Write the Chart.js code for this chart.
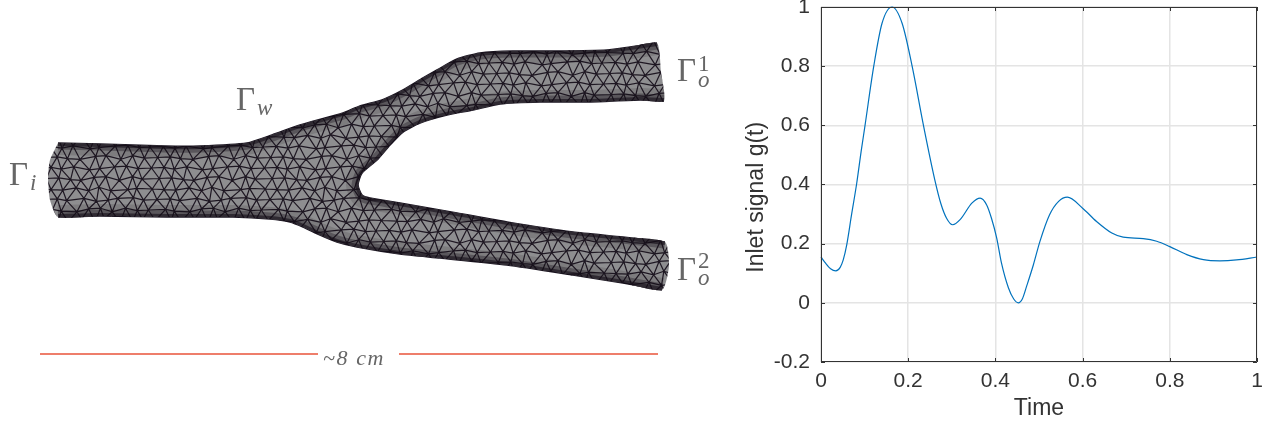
<!DOCTYPE html>
<html>
<head>
<meta charset="utf-8">
<title>Inlet signal</title>
<script src="https://cdn.jsdelivr.net/npm/chart.js@4"></script>
<style>
html, body { margin: 0; padding: 0; background: #fff; width: 1268px; height: 425px; overflow: hidden; }
#meshWrap { position: absolute; left: 0; top: 0; width: 720px; height: 425px; }
#signalWrap { position: absolute; left: 720px; top: 0; width: 548px; height: 425px; }
.lbl { position: absolute; color: #666; font-family: "Liberation Serif", serif; line-height: 1; white-space: nowrap; }
.big { font-size: 33px; }
.small { font-size: 23px; }
.it { font-style: italic; }
</style>
</head>
<body>
<div id="meshWrap"><canvas id="meshChart"></canvas></div>
<div id="signalWrap"><canvas id="signalChart"></canvas></div>

<span class="lbl big" style="left:9px;top:158px">Γ</span>
<span class="lbl small it" style="left:30px;top:171px">i</span>
<span class="lbl big" style="left:236px;top:83px">Γ</span>
<span class="lbl small it" style="left:257px;top:96px">w</span>
<span class="lbl big" style="left:677px;top:54px">Γ</span>
<span class="lbl small" style="left:698px;top:52px">1</span>
<span class="lbl small it" style="left:698px;top:68px">o</span>
<span class="lbl big" style="left:677px;top:253px">Γ</span>
<span class="lbl small" style="left:698px;top:249px">2</span>
<span class="lbl small it" style="left:698px;top:266px">o</span>
<span class="lbl it" style="left:323px;top:347px;font-size:22px;letter-spacing:1.6px">~8 cm</span>

<script>
// inlet signal
var signalTime = [0, 0.009, 0.022, 0.034, 0.044, 0.051, 0.059, 0.07, 0.082, 0.092, 0.101, 0.121, 0.14, 0.163, 0.186, 0.209, 0.235, 0.261, 0.275, 0.288, 0.302, 0.319, 0.346, 0.365, 0.38, 0.391, 0.403, 0.414, 0.43, 0.442, 0.4525, 0.462, 0.472, 0.487, 0.502, 0.524, 0.545, 0.565, 0.6, 0.632, 0.667, 0.693, 0.739, 0.77, 0.8, 0.839, 0.877, 0.915, 0.953, 1];
var signalValue = [0.155, 0.137, 0.115, 0.108, 0.12, 0.145, 0.196, 0.297, 0.405, 0.511, 0.6, 0.8, 0.945, 1, 0.945, 0.8, 0.6, 0.416, 0.335, 0.286, 0.264, 0.281, 0.337, 0.354, 0.331, 0.286, 0.219, 0.134, 0.05, 0.013, 0, 0.014, 0.058, 0.128, 0.207, 0.297, 0.343, 0.357, 0.32, 0.275, 0.236, 0.222, 0.217, 0.208, 0.19, 0.163, 0.146, 0.142, 0.145, 0.155];
var xTicks = [0, 0.2, 0.4, 0.6, 0.8, 1];
var yTicks = [-0.2, 0, 0.2, 0.4, 0.6, 0.8, 1];

// vessel outline, in picture coordinates of the left panel
var wallUpper = [[58,143],[100,144],[165,146],[200,146],[247,143],[272,135],[300,125],[343,113],[360,106],[382,100],[403,90],[423,78],[437,70],[457,59],[480,53],[513,51],[557,51],[607,50],[630,47],[657,43]];
var capOutlet1 = [[661,72]];
var wallInner = [[664,101],[640,100],[590,102],[540,102],[500,104],[473,110],[447,115],[420,123],[403,132],[390,145],[377,160],[362,173],[358,185],[362,195],[370,198],[400,203],[457,213],[507,222],[573,232],[623,237],[665,242]];
var capOutlet2 = [[669,266]];
var wallLower = [[662,290],[623,283],[573,275],[507,265],[440,258],[400,254],[357,247],[337,242],[320,235],[303,227],[290,222],[270,219],[233,217],[167,217],[100,216],[58,217]];
var capInlet = [[50,200],[48,177],[50,160],[58,143]];
var rulerLeft = [[40,354],[318,354]];
var rulerRight = [[399,354],[658,354]];

function toXY(list) {
    return list.map(function (p) { return { x: p[0], y: p[1] }; });
}

// small irregular triangle tile for the surface mesh
function meshPattern(ctx) {
    var cols = 9, rows = 8, dx = 12.5, dy = 10.5;
    var jit = [2, -1, 3, 0, -2, 1, -3, 2, 1, -2, 0, 3, -1, -3, 2, 1, -2, 0, 3, -1, 1];
    var tile = document.createElement('canvas');
    tile.width = Math.round(cols * dx);
    tile.height = rows * dy;
    var t = tile.getContext('2d');
    t.fillStyle = '#8e8e90';
    t.fillRect(0, 0, tile.width, tile.height);
    t.strokeStyle = 'rgba(24,17,28,0.95)';
    t.lineWidth = 1.2;
    function node(c, r) {
        var cw = (c % cols + cols) % cols, rw = (r % rows + rows) % rows;
        return [
            (c * tile.width / cols) + (r % 2 !== 0 ? dx / 2 : 0) + jit[(cw * 5 + rw * 3) % jit.length] * 0.8,
            r * dy + jit[(cw * 2 + rw * 7 + 4) % jit.length] * 0.6
        ];
    }
    function seg(a, b) {
        t.moveTo(a[0], a[1]);
        t.lineTo(b[0], b[1]);
    }
    t.beginPath();
    for (var r = -1; r <= rows; r++) {
        for (var c = -1; c <= cols; c++) {
            var n = node(c, r);
            var off = r % 2 !== 0 ? 1 : 0;
            seg(n, node(c + 1, r));
            seg(n, node(c + off, r + 1));
            seg(n, node(c + off - 1, r + 1));
        }
    }
    t.stroke();
    return ctx.createPattern(tile, 'repeat');
}

// darkens the mesh along the walls, where the elements get dense
var wallShade = {
    id: 'wallShade',
    afterDatasetsDraw: function (chart) {
        var ctx = chart.ctx;
        ctx.save();
        ctx.beginPath();
        chart.getDatasetMeta(0).dataset.path(ctx);
        ctx.closePath();
        ctx.clip();
        [[24, 0.14], [13, 0.34], [6, 0.6]].forEach(function (s) {
            [1, 2, 3].forEach(function (i) {
                ctx.beginPath();
                chart.getDatasetMeta(i).dataset.path(ctx);
                ctx.lineWidth = s[0];
                ctx.strokeStyle = 'rgba(20,14,24,' + s[1] + ')';
                ctx.stroke();
            });
        });
        ctx.restore();
    }
};

var meshCtx = document.getElementById('meshChart').getContext('2d');
var vessel = wallUpper.concat(capOutlet1, wallInner, capOutlet2, wallLower, capInlet);
function wall(list) {
    return { data: toXY(list), showLine: true, borderColor: '#1a1420', borderWidth: 1.6, pointRadius: 0, tension: 0.2, fill: false };
}
function ruler(list) {
    return { data: toXY(list), showLine: true, borderColor: '#e8533a', borderWidth: 1.4, pointRadius: 0, fill: false };
}
new Chart(meshCtx, {
    type: 'scatter',
    data: {
        datasets: [
            { data: toXY(vessel), showLine: true, fill: 'shape', backgroundColor: meshPattern(meshCtx), borderWidth: 0, borderColor: 'rgba(0,0,0,0)', pointRadius: 0, tension: 0.2 },
            wall(wallUpper),
            wall(wallInner),
            wall(wallLower),
            ruler(rulerLeft),
            ruler(rulerRight)
        ]
    },
    options: {
        responsive: true,
        maintainAspectRatio: false,
        animation: false,
        events: [],
        plugins: { legend: { display: false }, tooltip: { enabled: false } },
        scales: {
            x: { type: 'linear', display: false, min: 0, max: 720 },
            y: { type: 'linear', display: false, min: 0, max: 425, reverse: true }
        }
    },
    plugins: [wallShade]
});

// matlab style box with inward ticks
var insideTicks = {
    id: 'insideTicks',
    afterDatasetsDraw: function (chart) {
        var ctx = chart.ctx, a = chart.chartArea, len = 4;
        ctx.save();
        ctx.strokeStyle = '#333';
        ctx.lineWidth = 1;
        ctx.beginPath();
        ctx.rect(a.left + 0.5, a.top + 0.5, a.right - a.left - 1, a.bottom - a.top - 1);
        xTicks.forEach(function (v) {
            var px = Math.round(chart.scales.x.getPixelForValue(v)) + 0.5;
            ctx.moveTo(px, a.top);
            ctx.lineTo(px, a.top + len);
            ctx.moveTo(px, a.bottom);
            ctx.lineTo(px, a.bottom - len);
        });
        yTicks.forEach(function (v) {
            var py = Math.round(chart.scales.y.getPixelForValue(v)) + 0.5;
            ctx.moveTo(a.left, py);
            ctx.lineTo(a.left + len, py);
            ctx.moveTo(a.right, py);
            ctx.lineTo(a.right - len, py);
        });
        ctx.stroke();
        ctx.restore();
    }
};

var fontName = '"Liberation Sans", Arial, sans-serif';
new Chart(document.getElementById('signalChart').getContext('2d'), {
    type: 'scatter',
    data: {
        datasets: [{
            data: signalTime.map(function (t, i) { return { x: t, y: signalValue[i] }; }),
            showLine: true,
            borderColor: '#0072bd',
            borderWidth: 1.2,
            pointRadius: 0,
            cubicInterpolationMode: 'monotone',
            clip: false
        }]
    },
    options: {
        responsive: true,
        maintainAspectRatio: false,
        animation: false,
        events: [],
        layout: { padding: { top: 7, right: 11, left: 0, bottom: 0 } },
        plugins: { legend: { display: false }, tooltip: { enabled: false } },
        scales: {
            x: {
                type: 'linear',
                min: 0,
                max: 1,
                afterBuildTicks: function (s) { s.ticks = xTicks.map(function (v) { return { value: v }; }); },
                afterFit: function (s) { s.height = 63; s.paddingLeft = 0; s.paddingRight = 0; },
                grid: { color: '#e4e4e4', drawTicks: false, lineWidth: 1.5 },
                border: { display: false },
                ticks: { color: '#333', padding: 7, maxRotation: 0, font: { family: fontName, size: 21 }, callback: function (v) { return String(v); } },
                title: { display: true, text: 'Time', color: '#333', padding: { top: 0, bottom: 3 }, font: { family: fontName, size: 23 } }
            },
            y: {
                type: 'linear',
                min: -0.2,
                max: 1,
                afterBuildTicks: function (s) { s.ticks = yTicks.map(function (v) { return { value: v }; }); },
                afterFit: function (s) { s.width = 101; s.paddingTop = 0; s.paddingBottom = 0; },
                grid: { color: '#e4e4e4', drawTicks: false, lineWidth: 1.5 },
                border: { display: false },
                ticks: { color: '#333', padding: 11, font: { family: fontName, size: 21 }, callback: function (v) { return String(v); } },
                // trailing spaces: the label sits a little below the middle of the axis
                title: { display: true, text: 'Inlet signal g(t)\u00a0\u00a0\u00a0\u00a0', color: '#333', padding: { top: 23, bottom: 0 }, font: { family: fontName, size: 23 } }
            }
        }
    },
    plugins: [insideTicks]
});
</script>
</body>
</html>
